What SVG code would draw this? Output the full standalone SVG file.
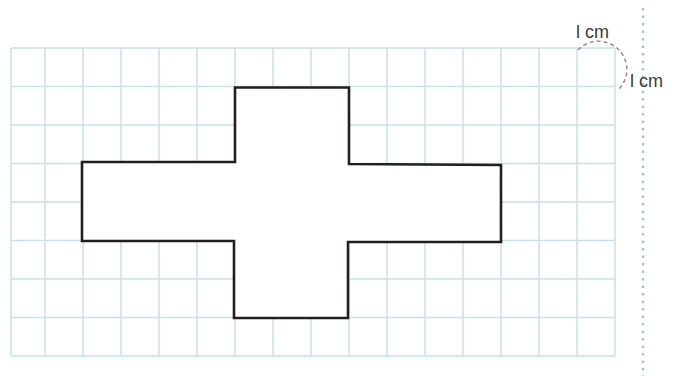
<svg xmlns="http://www.w3.org/2000/svg" width="676" height="376" viewBox="0 0 676 376">
<style>
.g{stroke:#c3e2eb;stroke-width:1.5;fill:none}
.shape{fill:#ffffff;stroke:#231f20;stroke-width:2.6;stroke-linejoin:miter}
.lbl{font-family:"Liberation Sans",Arial,sans-serif;font-size:18px;fill:#3a3a3a}
</style>
<rect width="676" height="376" fill="#ffffff"/>
<g id="grid" class="g">
<path d="M11,48V356M45,48V356M83,48V356M121,48V356M159,48V356M197,48V356M235,48V356M273,48V356M311,48V356M349,48V356M387,48V356M425,48V356M463,48V356M501,48V356M539,48V356M577,48V356M615,48V356"/>
<path d="M11,48H615M11,86.5H615M11,125H615M11,163.5H615M11,202H615M11,240.5H615M11,279H615M11,317.5H615M11,356H615"/>
</g>
<g id="cross">
<path class="shape" d="M235,87.5H349V164L501,165V242H348V318H234V241H82V162H235Z"/>
</g>
<g id="ruler">
<line x1="643" y1="8" x2="643" y2="376" stroke="#94c9dd" stroke-width="2.4" stroke-dasharray="2.5 5"/>
</g>
<g id="scale">
<path d="M578,50A27,27 0 1 1 619,89" fill="none" stroke="#b08280" stroke-width="1.5" stroke-dasharray="4 3"/>
<text class="lbl" x="576" y="38">l cm</text>
<text class="lbl" x="630" y="87">l cm</text>
</g>
</svg>
